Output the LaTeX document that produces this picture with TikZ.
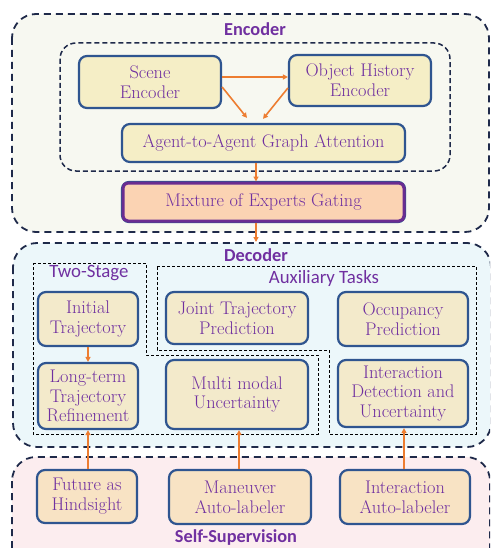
\documentclass[tikz,border=0pt]{standalone}
\usepackage{fontspec}
\usetikzlibrary{arrows.meta,calc}
\newfontfamily\lblfont{Carlito}
\definecolor{boxblue}{HTML}{2F5590}
\definecolor{navy}{HTML}{1F2A4A}
\definecolor{txt}{HTML}{7030A0}
\definecolor{arr}{HTML}{ED7D31}
\definecolor{encfill}{HTML}{F7F8F1}
\definecolor{decfill}{HTML}{ECF7FA}
\definecolor{ssfill}{HTML}{FCEDEF}
\definecolor{yelbox}{HTML}{F5EEC6}
\definecolor{beigebox}{HTML}{F3EACB}
\definecolor{peachbox}{HTML}{F8E3C4}
\definecolor{moefill}{HTML}{FBD3B3}
\definecolor{moeedge}{HTML}{6A2C91}
\tikzset{
  x=1pt,y=-1pt,
  blk/.style={draw=boxblue,line width=2.2pt,rounded corners=8pt,text=txt,align=center,
     font=\fontsize{18.3}{19.8}\selectfont,inner sep=0pt},
  encbox/.style={blk,fill=yelbox},
  decbox/.style={blk,fill=beigebox},
  ssbox/.style={blk,fill=peachbox},
  outer/.style={draw=navy,line width=1.8pt,dash pattern=on 7pt off 5pt,rounded corners=24pt},
  thinbox/.style={draw=black,line width=0.8pt,dash pattern=on 3pt off 2pt},
  flow/.style={draw=arr,line width=1.6pt,-{Triangle[length=5pt,width=5pt]}},
  biglbl/.style={text=txt,font=\lblfont\bfseries\fontsize{18.3}{20}\selectfont},
  sublbl/.style={text=txt,font=\lblfont\fontsize{18.8}{20}\selectfont},
}
\begin{document}
\begin{tikzpicture}
\useasboundingbox (0,0) rectangle (490,548);
\clip (0,0) rectangle (490,548);
\fill[white] (0,0) rectangle (490,548);
% outer regions
\path[outer,fill=encfill] (12,14) rectangle (489,232);
\path[outer,fill=decfill] (13,243) rectangle (491,447);
\path[outer,fill=ssfill] (12,457) rectangle (490,575);
\draw[navy,line width=1.5pt,dash pattern=on 5pt off 3pt,rounded corners=16pt] (60,43) rectangle (450,171);
% thin dashed groups
\draw[thinbox] (33,263) -- (146,263) -- (146,355) -- (318,355) -- (318,434) -- (33,434) -- cycle;
\draw[thinbox] (157,266) -- (476,266) -- (476,434) -- (329,434) -- (329,350) -- (157,350) -- cycle;
% labels
\node[biglbl] (lenc) at (255,29.5) {Encoder};
\node[biglbl] (ldec) at (256,255) {Decoder};
\node[sublbl] (ltwo) at (89,273) {Two-Stage};
\node[sublbl] (laux) at (324,278) {Auxiliary Tasks};
\node[biglbl] (lss) at (236,538) {Self-Supervision};
% encoder boxes
\node[encbox,minimum width=142pt,minimum height=52pt] (scene) at (150,82) {Scene\\Encoder};
\node[encbox,minimum width=142pt,minimum height=51pt] (obj) at (360,80.5) {Object History\\Encoder};
\node[encbox,minimum width=283pt,minimum height=38pt] (agent) at (263.5,143) {Agent-to-Agent Graph Attention};
\node[draw=boxblue,line width=4.2pt,rounded corners=6pt,minimum width=281pt,minimum height=38pt] (moeout) at (263.5,202) {};
\node[blk,draw=moeedge,line width=3pt,fill=moefill,rounded corners=5pt,minimum width=281pt,minimum height=38pt] (moe) at (263.5,202) {Mixture of Experts Gating};
% decoder boxes
\node[decbox,minimum width=100pt,minimum height=54pt] (init) at (88,319) {Initial\\Trajectory};
\node[decbox,minimum width=100pt,minimum height=66pt] (longt) at (88,396) {Long-term\\Trajectory\\Refinement};
\node[decbox,minimum width=142pt,minimum height=52pt] (joint) at (237,318) {Joint Trajectory\\Prediction};
\node[decbox,minimum width=130pt,minimum height=54pt] (occ) at (403,319) {Occupancy\\Prediction};
\node[decbox,minimum width=142pt,minimum height=69pt] (multi) at (237,394.5) {Multi modal\\Uncertainty};
\node[decbox,minimum width=130pt,minimum height=67pt] (inter) at (403,393.5) {Interaction\\Detection and\\Uncertainty};
% self-supervision boxes
\node[ssbox,minimum width=100pt,minimum height=53pt] (future) at (87,496.5) {Future as\\Hindsight};
\node[ssbox,minimum width=142pt,minimum height=54pt] (maneuver) at (240,497) {Maneuver\\Auto-labeler};
\node[ssbox,minimum width=130pt,minimum height=54pt] (interlab) at (405,497) {Interaction\\Auto-labeler};
% arrows
\coordinate (dectop) at (256,242);
\draw[flow] ($(scene.east)+(0,-5)$) -- ($(obj.west)+(0,-3.5)$);
\draw[flow] ($(scene.east)+(0,5)$) -- ($(agent.north)+(-16.5,-5)$);
\draw[flow] ($(obj.west)+(0,7.5)$) -- ($(agent.north)+(-0.5,-4)$);
\draw[flow] ($(agent.south)+(-7.5,0)$) -- ($(moe.north)+(-7.5,0)$);
\draw[flow] ($(moe.south)+(-7.5,0)$) -- (dectop);
\draw[flow] (init.south) -- (longt.north);
\draw[flow] ($(future.north)+(1,0)$) -- ($(longt.south)+(0,0)$);
\draw[flow] ($(maneuver.north)+(-1,0)$) -- ($(multi.south)+(2,0)$);
\draw[flow] ($(interlab.north)+(-1,0)$) -- ($(inter.south)+(1,0)$);
\end{tikzpicture}
\end{document}
